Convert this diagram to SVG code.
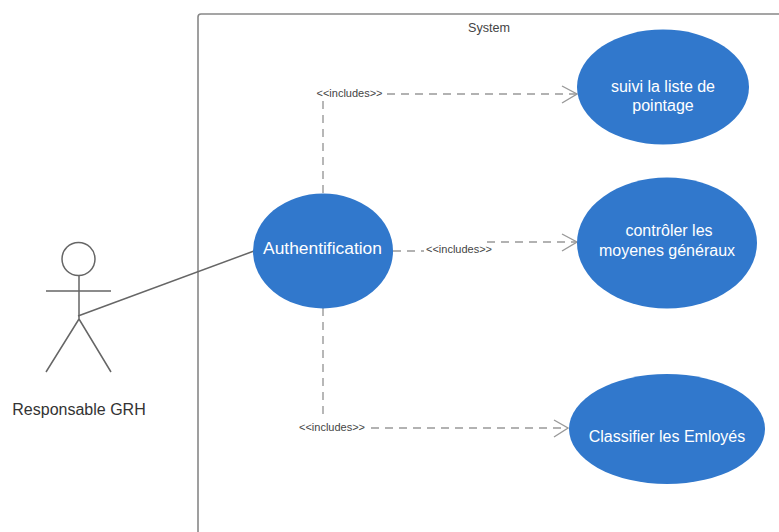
<svg xmlns="http://www.w3.org/2000/svg" width="779" height="532" viewBox="0 0 779 532">
<style>
text{font-family:"Liberation Sans",Arial,sans-serif;text-anchor:middle}
.uc{fill:#3178cc}
.ut{fill:#fff;font-size:16px}
.dash{fill:none;stroke:#999;stroke-width:1.4;stroke-dasharray:8 6}
.head{fill:none;stroke:#999;stroke-width:1.4}
.lbl{fill:#444;font-size:11px}
.act{fill:none;stroke:#666;stroke-width:1.5}
</style>
<rect width="779" height="532" fill="#fff"/>
<g id="system">
<path d="M198 532V17Q198 14 201 14H779" fill="none" stroke="#888" stroke-width="1.6"/>
<text x="489" y="32" font-size="12.600" fill="#444">System</text>
</g>
<g id="connectors">
<path class="act" d="M78 316L254 251"/>
<path class="dash" d="M323 193V101"/>
<path class="dash" d="M387 94H577"/>
<path class="head" d="M562 86L577 94L562 103"/>
<path class="dash" d="M393 251H424"/>
<path class="dash" d="M487 242H577"/>
<path class="head" d="M562 234L577 242L562 251"/>
<path class="dash" d="M323 308V420"/>
<path class="dash" d="M371 428H568"/>
<path class="head" d="M554 420L568 428L554 437"/>
<text class="lbl" x="349.500" y="97">&lt;&lt;includes&gt;&gt;</text>
<text class="lbl" x="459" y="253">&lt;&lt;includes&gt;&gt;</text>
<text class="lbl" x="332" y="431">&lt;&lt;includes&gt;&gt;</text>
</g>
<g id="actor">
<circle class="act" cx="78.500" cy="259" r="16.500"/>
<path class="act" d="M79 276V319M46 291H111M79 319L46 372M79 319L111 372"/>
<text x="79" y="415" font-size="16" fill="#333">Responsable GRH</text>
</g>
<g id="auth">
<ellipse class="uc" cx="323" cy="251" rx="70" ry="57.500"/>
<text class="ut" x="322.500" y="254" style="font-size:17.400px">Authentification</text>
</g>
<g id="suivi">
<ellipse class="uc" cx="663" cy="87" rx="86" ry="57.500"/>
<text class="ut" x="663" y="92">suivi la liste de</text>
<text class="ut" x="663" y="111">pointage</text>
</g>
<g id="controler">
<ellipse class="uc" cx="667" cy="243" rx="90" ry="65.500"/>
<text class="ut" x="669" y="236">contrôler les</text>
<text class="ut" x="667" y="256">moyenes généraux</text>
</g>
<g id="classifier">
<ellipse class="uc" cx="667" cy="429" rx="98" ry="55"/>
<text class="ut" x="667" y="442">Classifier les Emloyés</text>
</g>
</svg>
